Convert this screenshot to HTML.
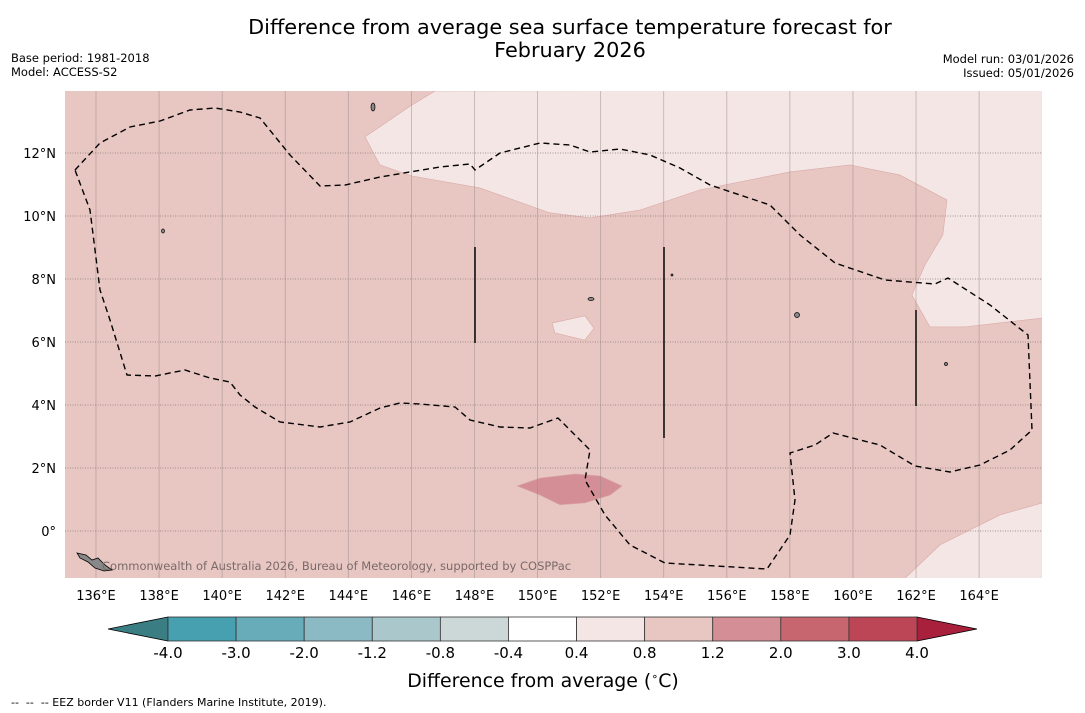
<!DOCTYPE html>
<html><head><meta charset="utf-8"><style>
html,body{margin:0;padding:0;background:#fff;}
svg{display:block;font-family:"DejaVu Sans","Liberation Sans",sans-serif;}
</style></head><body>
<svg id="c" width="1085" height="713" viewBox="0 0 1085 713">
<text x="570" y="34" font-size="20.8" text-anchor="middle">Difference from average sea surface temperature forecast for</text>
<text x="570" y="57" font-size="20.8" text-anchor="middle">February 2026</text>
<text x="11" y="62" font-size="11.5">Base period: 1981-2018</text>
<text x="11" y="76" font-size="11.5">Model: ACCESS-S2</text>
<text x="1074" y="63" font-size="11.5" text-anchor="end">Model run: 03/01/2026</text>
<text x="1074" y="77" font-size="11.5" text-anchor="end">Issued: 05/01/2026</text>
<g id="map"></g>
<g id="cb"></g>
<text x="543" y="687" font-size="18.9" text-anchor="middle">Difference from average (<tspan font-size="11" dy="-7">∘</tspan><tspan dy="7">C)</tspan></text>
<text x="11" y="706" font-size="11" xml:space="preserve" style="white-space:pre">--  --  -- EEZ border V11 (Flanders Marine Institute, 2019).</text>
</svg>
<script>
const lonTicks=[136,138,140,142,144,146,148,150,152,154,156,158,160,162,164];
const latTicks=[0,2,4,6,8,10,12];
const levels=[-4.0,-3.0,-2.0,-1.2,-0.8,-0.4,0.4,0.8,1.2,2.0,3.0,4.0];
const levelColors=["#47a0b0","#69acb9","#8bb9c4","#aac8cc","#ccd8d8","#ffffff","#f4e6e4","#e8c6c2","#d48e96","#c8666f","#bd4656"];
const backgroundLevel=1.0;
const lightNorth=[[146.75,13.97],[145.96,13.49],[144.53,12.51],[145.0,11.62],[146.02,11.27],[148.17,10.89],[150.39,10.1],[151.66,9.94],[153.25,10.19],[155.15,10.83],[158.0,11.4],[159.9,11.62],[161.49,11.3],[162.98,10.51],[162.85,9.4],[162.28,8.44],[161.87,7.49],[162.44,6.48],[163.55,6.48],[166,6.76],[166,14]];
const lightSE=[[161.65,-1.5],[162.76,-0.44],[164.66,0.51],[166,0.89],[166,-1.5]];
const lightPatch=[[150.46,6.6],[151.5,6.83],[151.79,6.44],[151.5,6.06],[150.55,6.29]];
const darkPatch=[[149.35,1.43],[150.08,1.68],[151.19,1.81],[151.98,1.75],[152.68,1.43],[152.3,1.14],[151.5,0.89],[150.71,0.83],[150.08,1.14]];
const regionLevels=[0.6,0.6,0.6,1.5];
const NS='http://www.w3.org/2000/svg';
const X0=65,X1=1042,Y0=91,Y1=578;
function xs(lon){return 96+(lon-136)*31.54;}
function ys(lat){return 531-lat*31.5;}
function colorFor(v){for(let i=0;i<levels.length-1;i++){if(v>=levels[i]&&v<levels[i+1])return levelColors[i];}return v<levels[0]?"#3a7e84":"#a8203c";}
function mk(tag,attrs,parent){const e=document.createElementNS(NS,tag);for(const k in attrs)e.setAttribute(k,attrs[k]);parent.appendChild(e);return e;}
const map=document.getElementById('map');
const bg=mk('rect',{x:X0,y:Y0,width:X1-X0,height:Y1-Y0,fill:colorFor(backgroundLevel)},map);


const defs=mk('defs',{},map);
const cp=mk('clipPath',{id:'clip'},defs);
mk('rect',{x:X0,y:Y0,width:X1-X0,height:Y1-Y0},cp);
const g=mk('g',{'clip-path':'url(#clip)'},map);
const regions=[lightNorth,lightSE,lightPatch,darkPatch];
const rnames=['anomaly-region-north','anomaly-region-southeast','anomaly-region-patch','anomaly-region-warm'];
regions.forEach((r,i)=>{
  const p=mk('polygon',{points:r.map(d=>xs(d[0])+','+ys(d[1])).join(' '),fill:colorFor(regionLevels[i]),stroke:'#d8aaa8','stroke-width':0.6},g);
  
  
});
lonTicks.forEach(l=>{
  const ln=mk('line',{x1:xs(l),x2:xs(l),y1:Y0,y2:Y1,stroke:'#9a8a8a','stroke-width':0.8,'stroke-opacity':0.6},g);
  
  
  const t=mk('text',{x:xs(l),y:600,'font-size':13,'text-anchor':'middle'},map);
  t.textContent=l+'°E';
  
  
});
latTicks.forEach(l=>{
  const ln=mk('line',{x1:X0,x2:X1,y1:ys(l),y2:ys(l),stroke:'#8a7a7a','stroke-width':0.8,'stroke-dasharray':'1,1.5'},g);
  
  
  const t=mk('text',{x:56,y:ys(l)+5,'font-size':13,'text-anchor':'end'},map);
  t.textContent=l===0?'0°':l+'°N';
  
  
});
const eez=[[75,170],[100,143],[130,127],[160,121],[190,110],[215,108],[240,112],[260,118],[290,155],[320,186],[345,185],[380,177],[440,167],[470,164],[475,170],[500,153],[540,143],[570,145],[590,152],[620,149],[650,155],[680,168],[710,185],[770,205],[800,235],[835,263],[885,280],[935,284],[948,278],[990,305],[1028,335],[1032,430],[1010,450],[980,465],[950,472],[915,466],[880,445],[860,440],[833,433],[815,445],[790,453],[795,500],[790,535],[767,569],[665,563],[630,545],[605,515],[585,480],[590,450],[575,435],[558,418],[530,428],[500,427],[470,420],[455,407],[420,404],[400,403],[380,408],[350,422],[320,427],[280,422],[255,407],[240,395],[230,382],[210,378],[185,370],[155,376],[127,375],[110,320],[100,290],[95,250],[90,210],[75,170]];
const ez=mk('polyline',{points:eez.map(p=>p.join(',')).join(' '),fill:'none',stroke:'#000','stroke-width':1.4,'stroke-dasharray':'6,4'},g);


[[475,247,343],[664,247,438],[916,310,406]].forEach(v=>{
  const l=mk('line',{x1:v[0],x2:v[0],y1:v[1],y2:v[2],stroke:'#111','stroke-width':1.6},g);
  
  
});
[[373,107,2,4],[797,315,2.5,2.5],[591,299,3,1.5],[163,231,1.5,2],[946,364,1.5,1.5],[672,275,1,1]].forEach(d=>{
  const e=mk('ellipse',{cx:d[0],cy:d[1],rx:d[2],ry:d[3],fill:'#888',stroke:'#000','stroke-width':0.7},g);
  
  
});
const isl=mk('polygon',{points:'77,553 86,555 92,560 98,558 105,565 112,570 104,571 95,568 88,562 80,558',fill:'#888',stroke:'#000','stroke-width':0.8},g);


const cr=mk('text',{x:102,y:570,'font-size':11.5,fill:'#7a6a6a'},g);
cr.textContent='Commonwealth of Australia 2026, Bureau of Meteorology, supported by COSPPac';


const cb=document.getElementById('cb');
const CX0=168,CX1=917,CY0=617,CY1=641;
function cx(i){return CX0+i*(CX1-CX0)/(levels.length-1);}
const lt=mk('polygon',{points:`${CX0},${CY0} 108,629 ${CX0},${CY1}`,fill:colorFor(-99),stroke:'#000','stroke-width':0.8},cb);


const rt=mk('polygon',{points:`${CX1},${CY0} 977,629 ${CX1},${CY1}`,fill:colorFor(99),stroke:'#000','stroke-width':0.8},cb);


for(let i=0;i<levels.length-1;i++){
  const r=mk('rect',{x:cx(i),y:CY0,width:cx(i+1)-cx(i),height:CY1-CY0,fill:levelColors[i],stroke:'#333','stroke-width':0.8},cb);
  
  
}
levels.forEach((v,i)=>{
  const t=mk('text',{x:cx(i),y:658,'font-size':15,'text-anchor':'middle'},cb);
  t.textContent=v.toFixed(1);
  
  
});
</script>
</body></html>
